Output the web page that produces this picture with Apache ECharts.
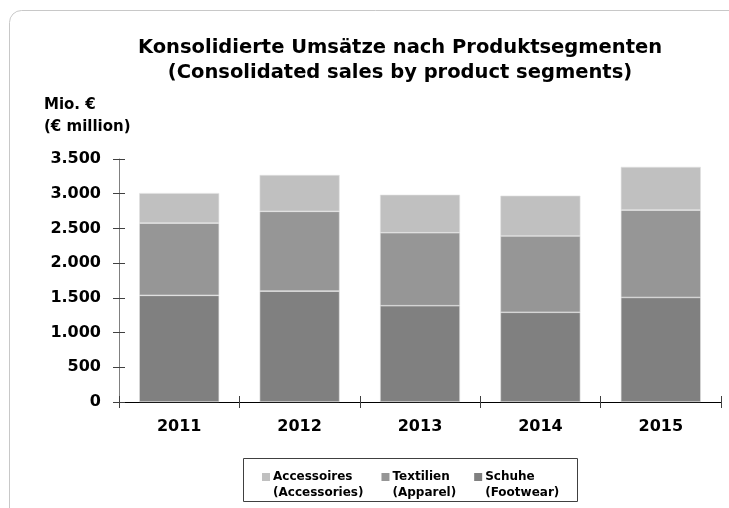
<!DOCTYPE html>
<html>
<head>
<meta charset="utf-8">
<script src="https://cdn.jsdelivr.net/npm/echarts@6/dist/echarts.min.js"></script>
<style>
  html, body { margin: 0; padding: 0; background: #fff; }
  #chart { width: 729px; height: 508px; }
</style>
</head>
<body>
<div id="chart"></div>
<script>
// Umsätze nach Segmenten (Mio. €)
const years = ['2011', '2012', '2013', '2014', '2015']
const schuhe = [1536, 1597, 1387, 1292, 1506]
const textilien = [1041, 1149, 1051, 1099, 1258]
const accessoires = [432, 524, 547, 581, 623]
const yTicks = [0, 500, 1000, 1500, 2000, 2500, 3000, 3500]

const names = {
  acc: 'Accessoires\n(Accessories)',
  tex: 'Textilien\n(Apparel)',
  sch: 'Schuhe\n(Footwear)'
}

const font = 'DejaVu Sans'
const chart = echarts.init(document.getElementById('chart'))

const fmtNum = v => String(v).replace(/\B(?=(\d{3})+(?!\d))/g, '.')

const yBase = {
  type: 'value',
  min: yTicks[0],
  max: yTicks[yTicks.length - 1],
  interval: 500,
  splitLine: {show: false}
}

// square sitting on the first text line
const legendIcon = 'path://M0,0H8V8H0Z M0,24'

chart.setOption({
  animation: false,
  textStyle: {fontFamily: font},
  title: {
    text: 'Konsolidierte Umsätze nach Produktsegmenten\n(Consolidated sales by product segments)',
    left: 395,
    textAlign: 'center',
    top: 30,
    textStyle: {fontFamily: font, fontSize: 19.5, fontWeight: 'bold', color: '#000', lineHeight: 25}
  },
  graphic: [
    {
      type: 'rect', silent: true, z: -1,
      shape: {x: 9.5, y: 10.5, width: 740, height: 520, r: 12},
      style: {fill: 'none', stroke: '#c8c8c8', lineWidth: 1}
    },
    {
      type: 'text', left: 44, top: 94,
      style: {text: 'Mio. €\n(€ million)', font: 'bold 15px "DejaVu Sans"', fill: '#000', lineHeight: 22}
    },
    {
      type: 'rect', silent: true,
      shape: {x: 243.5, y: 458.5, width: 334, height: 43},
      style: {fill: 'none', stroke: '#404040', lineWidth: 1}
    }
  ],
  legend: {
    data: [names.acc, names.tex, names.sch],
    left: 257,
    top: 464,
    icon: legendIcon,
    itemWidth: 8,
    itemHeight: 24,
    itemGap: 18,
    selectedMode: false,
    itemStyle: {borderWidth: 0},
    textStyle: {fontFamily: font, fontSize: 12, fontWeight: 'bold', color: '#000', lineHeight: 16, padding: [0, 0, 0, -2]}
  },
  grid: {left: 119, right: 8, top: 159, bottom: 106},
  xAxis: [
    {
      type: 'category',
      data: years,
      axisLine: {lineStyle: {color: '#000', width: 1}},
      axisTick: {show: true, length: 6, lineStyle: {color: '#404040'}},
      axisLabel: {margin: 17, fontFamily: font, fontSize: 16, fontWeight: 'bold', color: '#000'}
    },
    {
      type: 'category',
      data: years,
      position: 'bottom',
      axisLine: {show: false},
      axisTick: {show: true, inside: true, length: 6, lineStyle: {color: '#404040'}},
      axisLabel: {show: false}
    }
  ],
  yAxis: [
    Object.assign({}, yBase, {
      axisLine: {show: true, lineStyle: {color: '#808080', width: 1}},
      axisTick: {show: true, length: 6, lineStyle: {color: '#404040'}},
      axisLabel: {
        margin: 18, fontFamily: font, fontSize: 16, fontWeight: 'bold', color: '#000',
        formatter: fmtNum
      }
    }),
    Object.assign({}, yBase, {
      position: 'left',
      axisLine: {show: false},
      axisTick: {show: true, inside: true, length: 6, lineStyle: {color: '#404040'}},
      axisLabel: {show: false}
    })
  ],
  series: [
    {name: names.sch, type: 'bar', stack: 'total', data: schuhe, barWidth: 80,
      itemStyle: {color: '#808080', borderColor: '#e0e0e0', borderWidth: 0.6}},
    {name: names.tex, type: 'bar', stack: 'total', data: textilien, barWidth: 80,
      itemStyle: {color: '#969696', borderColor: '#e0e0e0', borderWidth: 0.6}},
    {name: names.acc, type: 'bar', stack: 'total', data: accessoires, barWidth: 80,
      itemStyle: {color: '#c0c0c0', borderColor: '#e0e0e0', borderWidth: 0.6}}
  ]
})
</script>
</body>
</html>
